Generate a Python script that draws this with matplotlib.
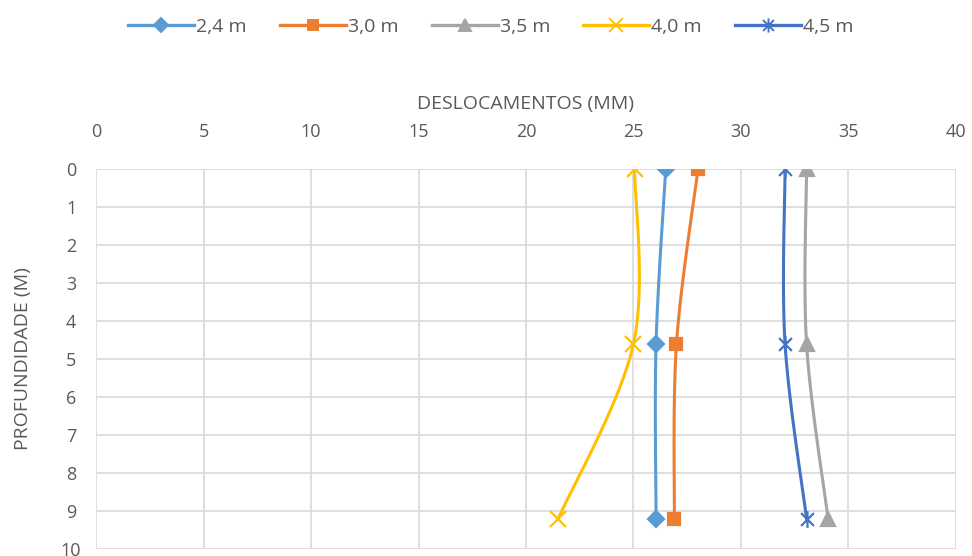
import numpy as np
import matplotlib
matplotlib.use("Agg")
import matplotlib.pyplot as plt
from matplotlib.path import Path
from matplotlib.lines import Line2D

plt.rcParams['font.family'] = ['Open Sans', 'DejaVu Sans']

depths = [0, 4.6, 9.2]
series_names = ["2,4 m", "3,0 m", "3,5 m", "4,0 m", "4,5 m"]
disp_24 = [26.5, 26.05, 26.05]
disp_30 = [28.0, 27.0, 26.9]
disp_35 = [33.05, 33.05, 34.05]
disp_40 = [25.05, 25.0, 21.5]
disp_45 = [32.05, 32.05, 33.05]
x_ticks = [0, 5, 10, 15, 20, 25, 30, 35, 40]
y_ticks = list(range(0, 11))

colors = ["#5B9BD5", "#ED7D31", "#A5A5A5", "#FFC000", "#4472C4"]

star = Path([(-1, -1), (1, 1), (-1, 1), (1, -1), (0, -1.3), (0, 1.3)],
            [Path.MOVETO, Path.LINETO, Path.MOVETO, Path.LINETO, Path.MOVETO, Path.LINETO])
markers = ["D", "s", "^", "x", star]
msizes = [8.5, 9, 10, 12, 12]


def smooth(xs, ys, n=30):
    pts = np.column_stack([xs, ys]).astype(float)
    P = np.vstack([pts[0], pts, pts[-1]])
    out = []
    for i in range(1, len(P) - 2):
        p0, p1, p2, p3 = P[i - 1], P[i], P[i + 1], P[i + 2]
        c1 = p1 + (p2 - p0) / 6.0
        c2 = p2 - (p3 - p1) / 6.0
        t = np.linspace(0, 1, n)[:, None]
        seg = ((1 - t) ** 3) * p1 + 3 * ((1 - t) ** 2) * t * c1 + 3 * (1 - t) * t ** 2 * c2 + t ** 3 * p2
        out.append(seg if i == 1 else seg[1:])
    arr = np.vstack(out)
    return arr[:, 0], arr[:, 1]


fig = plt.figure(figsize=(9.72, 5.56), dpi=100)
ax = fig.add_axes([0.0988, 0.0126, 0.8847, 0.6834])

all_series = [disp_24, disp_30, disp_35, disp_40, disp_45]
handles = []
for vals, c, m, ms, name in zip(all_series, colors, markers, msizes, series_names):
    sx, sy = smooth(vals, depths)
    ax.plot(sx, sy, color=c, lw=2.2, zorder=3)
    ax.plot(vals, depths, linestyle="none", marker=m, markersize=ms, color=c,
            markerfacecolor=c, markeredgewidth=1.6, zorder=4)
    handles.append(Line2D([0], [0], color=c, lw=2.4, marker=m, markersize=ms * 0.85,
                          markeredgewidth=1.4, label=name))

ax.set_xlim(0, 40)
ax.set_ylim(10, 0)
ax.set_xticks(x_ticks)
ax.set_yticks(y_ticks)
ax.xaxis.tick_top()
ax.xaxis.set_label_position("top")
ax.tick_params(length=0, labelsize=13, colors="#595959")
ax.tick_params(axis="x", pad=20)
ax.tick_params(axis="y", pad=18)
for lab in ax.get_yticklabels():
    lab.set_horizontalalignment("center")
ax.grid(True, color="#D9D9D9", lw=1.2)
ax.set_axisbelow(True)
for s in ax.spines.values():
    s.set_visible(False)
ax.set_xlabel("DESLOCAMENTOS (MM)", fontsize=14, color="#595959", labelpad=10)
ax.set_ylabel("PROFUNDIDADE (M)", fontsize=14, color="#595959", labelpad=21)

fig.legend(handles=handles, loc="center", bbox_to_anchor=(0.505, 0.951), ncol=5,
           frameon=False, fontsize=14, labelcolor="#595959", handlelength=3.4,
           handletextpad=0.1, columnspacing=1.7)

fig.savefig("out.png", dpi=100, facecolor="white")
